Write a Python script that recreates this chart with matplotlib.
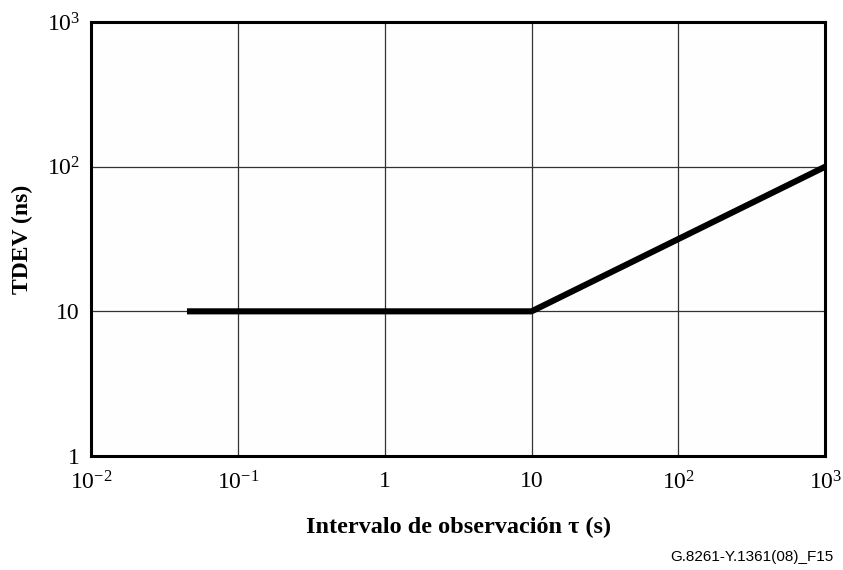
import matplotlib
matplotlib.use("Agg")
import matplotlib.pyplot as plt

plt.rcParams['font.family'] = ['Liberation Serif', 'DejaVu Serif']
plt.rcParams['mathtext.fontset'] = 'custom'
plt.rcParams['mathtext.rm'] = 'Liberation Serif'
plt.rcParams['mathtext.it'] = 'Liberation Serif:italic'
plt.rcParams['mathtext.bf'] = 'Liberation Serif:bold'

# TDEV mask (ns) vs observation interval tau (s)
tau = [0.045, 10, 1000]
tdev = [10, 10, 100]

x_ticks = [1e-2, 1e-1, 1, 10, 1e2, 1e3]
x_labels = [r'$10^{-2}$', r'$10^{-1}$', '1', '10', r'$10^{2}$', r'$10^{3}$']
y_ticks = [1, 10, 1e2, 1e3]
y_labels = ['1', '10', r'$10^{2}$', r'$10^{3}$']

fig = plt.figure(figsize=(8.43, 5.70), dpi=100)
ax = fig.add_axes([0.108, 0.2, 0.871, 0.7614])
ax.set_facecolor('#fefefe')

ax.plot(tau, tdev, color='black', lw=4.4, solid_capstyle='butt', zorder=3)

ax.set_xscale('log')
ax.set_yscale('log')
ax.set_xlim(1e-2, 1e3)
ax.set_ylim(1, 1e3)

ax.set_xticks(x_ticks)
ax.set_xticklabels(x_labels)
ax.set_yticks(y_ticks)
ax.set_yticklabels(y_labels)
ax.minorticks_off()
ax.tick_params(length=0, labelsize=17)
ax.tick_params(axis='x', pad=11)
ax.tick_params(axis='y', pad=8)

ax.grid(True, which='major', color='#333333', lw=0.9)
for s in ax.spines.values():
    s.set_linewidth(2.2)
    s.set_zorder(4)

ax.set_xlabel('Intervalo de observación τ (s)', fontsize=17.5, fontweight='bold', labelpad=16)
ax.set_ylabel('TDEV (ns)', fontsize=17, fontweight='bold', labelpad=10)

fig.text(0.989, 0.011, 'G.8261-Y.1361(08)_F15', ha='right', va='bottom',
         fontsize=11, family=['Liberation Sans', 'DejaVu Sans'])

fig.savefig('out.png', dpi=100)
